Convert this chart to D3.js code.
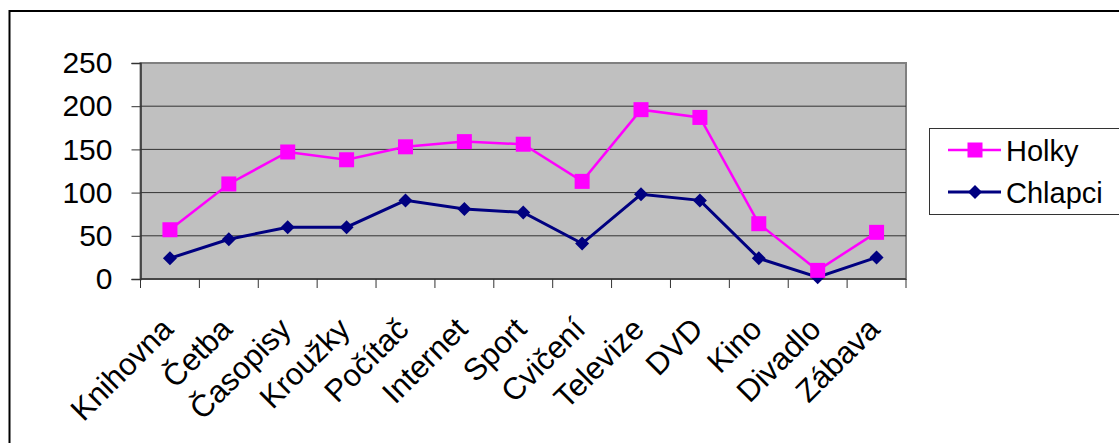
<!DOCTYPE html>
<html><head><meta charset="utf-8">
<script src="https://cdn.jsdelivr.net/npm/d3@7/dist/d3.min.js"></script>
<style>
html,body{margin:0;padding:0;background:#fff;overflow:hidden;}
svg text{font-family:"Liberation Sans",Arial,sans-serif;fill:#000;}
</style></head>
<body><svg id="c" width="1119" height="443"></svg>
<script>
const categories = ["Knihovna","Četba","Časopisy","Kroužky","Počítač","Internet","Sport","Cvičení","Televize","DVD","Kino","Divadlo","Zábava"];
const holky = [57,110,147,138,153,159,156,113,196,187,64,10,54];
const chlapci = [24,46,60,60,91,81,77,41,98,91,24,2,25];
const yTicks = [0,50,100,150,200,250];
const seriesNames = ["Holky","Chlapci"];

const svg = d3.select("#c");
// outer frame (extends past the right and bottom edges)
svg.append("rect").attr("x",9.5).attr("y",11).attr("width",1130).attr("height",450)
  .attr("fill","#fff").attr("stroke","#000").attr("stroke-width",2);

const L=140.5, R=906, T=63, B=279;
const x = d3.scaleBand().domain(categories).range([L,R]).paddingInner(0).paddingOuter(0);
const y = d3.scaleLinear().domain([0,250]).range([B,T]);

// plot area
svg.append("rect").attr("x",L).attr("y",T).attr("width",R-L).attr("height",B-T)
  .attr("fill","#C0C0C0").attr("stroke","#808080").attr("stroke-width",2);

// gridlines
svg.append("g").selectAll("line").data(yTicks.filter(d=>d>0&&d<250)).join("line")
  .attr("x1",L).attr("x2",R).attr("y1",d=>y(d)).attr("y2",d=>y(d))
  .attr("stroke","#333").attr("stroke-width",1);

// y axis
const yAxis = d3.axisLeft(y).tickValues(yTicks).tickSize(9).tickPadding(19);
const gy = svg.append("g").attr("transform",`translate(${L},0)`).call(yAxis);
gy.select(".domain").attr("stroke","#333").attr("stroke-width",1.5);
gy.selectAll(".tick line").attr("stroke","#333");
gy.selectAll("text").style("font-size","30px").attr("fill","#000");

// x axis: ticks at category boundaries
const bounds = categories.map(c=>x(c)).concat([R]);
const gx = svg.append("g");
gx.append("line").attr("x1",L).attr("x2",R).attr("y1",B).attr("y2",B).attr("stroke","#333").attr("stroke-width",1.5);
gx.selectAll("line.t").data(bounds).join("line").attr("class","t")
  .attr("x1",d=>d).attr("x2",d=>d).attr("y1",B).attr("y2",B+9).attr("stroke","#333");
gx.selectAll("text").data(categories).join("text")
  .attr("transform",d=>`translate(${x(d)+x.bandwidth()/2+5},${B+52}) rotate(-45)`)
  .attr("text-anchor","end").style("font-size","31px").text(d=>d);

const cx = d=>x(d)+x.bandwidth()/2;
const line = d3.line().x((d,i)=>cx(categories[i])).y(d=>y(d));

// Chlapci
svg.append("path").datum(chlapci).attr("d",line).attr("fill","none").attr("stroke","#000080").attr("stroke-width",3);
// Holky
svg.append("path").datum(holky).attr("d",line).attr("fill","none").attr("stroke","#FF00FF").attr("stroke-width",2.5);

const diamond = (g,px,py,s)=>g.append("path").attr("d",`M${px},${py-s}L${px+s},${py}L${px},${py+s}L${px-s},${py}Z`).attr("fill","#000080");
const square = (g,px,py,s)=>g.append("rect").attr("x",px-s/2).attr("y",py-s/2).attr("width",s).attr("height",s).attr("fill","#FF00FF");

const mk = svg.append("g");
chlapci.forEach((v,i)=>diamond(mk,cx(categories[i]),y(v),7));
holky.forEach((v,i)=>square(mk,cx(categories[i]),y(v),15));

// legend (box runs past the right edge)
const lg = svg.append("g");
lg.append("rect").attr("x",929.5).attr("y",128.5).attr("width",220).attr("height",86)
  .attr("fill","#fff").attr("stroke","#333").attr("stroke-width",1);
const ly = [150,192];
seriesNames.forEach((n,i)=>{
  const col = i===0?"#FF00FF":"#000080";
  lg.append("line").attr("x1",948).attr("x2",1001).attr("y1",ly[i]).attr("y2",ly[i]).attr("stroke",col).attr("stroke-width",i===0?2.5:3);
  if(i===0) square(lg,975,ly[i],15); else diamond(lg,975,ly[i],7);
  lg.append("text").attr("x",1006).attr("y",ly[i]+11).style("font-size","29px").text(n);
});
</script></body></html>
